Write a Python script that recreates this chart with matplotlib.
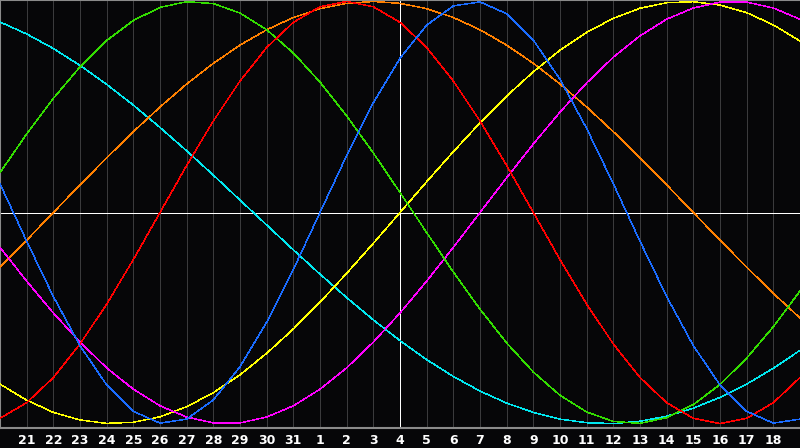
import matplotlib
matplotlib.use("Agg")
import matplotlib.pyplot as plt
import numpy as np

# day numbers along the bottom (first and last column carry no label)
day_labels = [20, 21, 22, 23, 24, 25, 26, 27, 28, 29, 30, 31,
              1, 2, 3, 4, 5, 6, 7, 8, 9, 10, 11, 12, 13, 14, 15, 16, 17, 18, 19]
today_index = 15  # day 4, marked by the white line

# cycle values per day (-1 .. 1)
physical = [0.136, -0.136, -0.398, -0.631, -0.817, -0.942, -0.998, -0.979, -0.888, -0.731,
            -0.520, -0.270, 0.0, 0.270, 0.520, 0.731, 0.888, 0.979, 0.998, 0.942,
            0.817, 0.631, 0.398, 0.136, -0.136, -0.398, -0.631, -0.817, -0.942, -0.998, -0.979]
emotional = [-0.975, -0.901, -0.782, -0.623, -0.434, -0.223, 0.0, 0.223, 0.434, 0.623,
             0.782, 0.901, 0.975, 1.0, 0.975, 0.901, 0.782, 0.623, 0.434, 0.223,
             0.0, -0.223, -0.434, -0.623, -0.782, -0.901, -0.975, -1.0, -0.975, -0.901, -0.782]
intellectual = [0.189, 0.372, 0.541, 0.690, 0.815, 0.910, 0.972, 0.999, 0.990, 0.945,
                0.866, 0.756, 0.618, 0.458, 0.282, 0.095, -0.095, -0.282, -0.458, -0.618,
                -0.756, -0.866, -0.945, -0.990, -0.999, -0.972, -0.910, -0.815, -0.690, -0.541, -0.372]
intuitive = [-0.165, -0.325, -0.476, -0.614, -0.736, -0.837, -0.916, -0.969, -0.997, -0.997,
             -0.969, -0.916, -0.837, -0.736, -0.614, -0.476, -0.325, -0.165, 0.0, 0.165,
             0.325, 0.476, 0.614, 0.736, 0.837, 0.916, 0.969, 0.997, 0.997, 0.969, 0.916]
aesthetic = [-0.813, -0.889, -0.947, -0.983, -0.999, -0.994, -0.968, -0.920, -0.854, -0.769,
             -0.667, -0.552, -0.425, -0.288, -0.146, 0.0, 0.146, 0.288, 0.425, 0.552,
             0.667, 0.769, 0.854, 0.920, 0.968, 0.994, 0.999, 0.983, 0.947, 0.889, 0.813]
awareness = [-0.259, -0.131, 0.0, 0.131, 0.259, 0.383, 0.5, 0.609, 0.707, 0.793,
             0.866, 0.924, 0.966, 0.991, 1.0, 0.991, 0.966, 0.924, 0.866, 0.793,
             0.707, 0.609, 0.5, 0.383, 0.259, 0.131, 0.0, -0.131, -0.259, -0.383, -0.5]
spiritual = [0.903, 0.846, 0.777, 0.697, 0.607, 0.509, 0.403, 0.292, 0.177, 0.059,
             -0.059, -0.177, -0.292, -0.403, -0.509, -0.607, -0.697, -0.777, -0.846, -0.903,
             -0.947, -0.979, -0.996, -1.0, -0.989, -0.965, -0.927, -0.876, -0.813, -0.738, -0.653]

bg = "#060608"
fig = plt.figure(figsize=(8, 4.48), dpi=100, facecolor=bg)
ax = fig.add_axes([0, 20 / 448, 1, 428 / 448], facecolor=bg)

x = np.arange(len(day_labels))

# day grid
for xi in x[1:-1]:
    ax.axvline(xi, color="#3a3a3c", lw=0.5, antialiased=False, zorder=1)
ax.axvline(today_index, color="white", lw=0.5, antialiased=False, zorder=2)
ax.axhline(0, color="white", lw=0.5, antialiased=False, zorder=2)

series = [
    (spiritual, "#00e8f0"),
    (awareness, "#ff8000"),
    (aesthetic, "#ffff00"),
    (intuitive, "#ff00ff"),
    (intellectual, "#33dd00"),
    (emotional, "#ff0000"),
    (physical, "#1a6cff"),
]
for vals, col in series:
    ax.plot(x, vals, color=col, lw=0.35, antialiased=False, zorder=3)

ax.set_xlim(0, 30)
ax.set_ylim(-1.021, 1.007)
ax.set_yticks([])
ax.set_xticks(x[1:-1])
ax.set_xticklabels([str(d) for d in day_labels[1:-1]], color="white",
                   fontsize=9, fontweight="bold")
ax.tick_params(axis="x", length=0, pad=4)

for side in ["top", "left", "bottom"]:
    ax.spines[side].set_color("#8a8a8a")
    ax.spines[side].set_linewidth(1.5)
ax.spines["right"].set_visible(False)

fig.savefig("out.png", dpi=100, facecolor=bg)
